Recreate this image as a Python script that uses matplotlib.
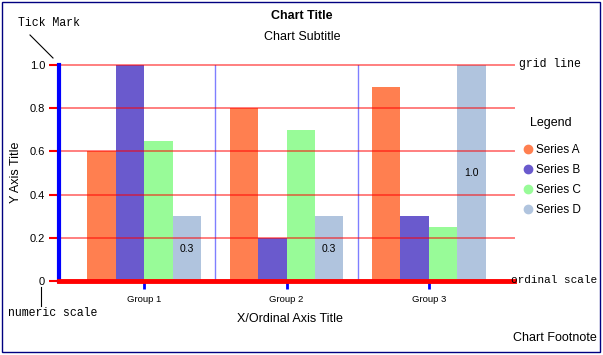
import numpy as np
import matplotlib
matplotlib.use("Agg")
import matplotlib.pyplot as plt
from matplotlib.lines import Line2D
from matplotlib.patches import Rectangle

groups = ["Group 1", "Group 2", "Group 3"]
series = ["Series A", "Series B", "Series C", "Series D"]
values = {
    "Series A": [0.6, 0.8, 0.9],
    "Series B": [1.0, 0.2, 0.3],
    "Series C": [0.65, 0.7, 0.25],
    "Series D": [0.3, 0.3, 1.0],
}
colors = ["#ff7f50", "#6a5acd", "#98fb98", "#b0c4de"]
y_ticks = [0, 0.2, 0.4, 0.6, 0.8, 1.0]
y_labels = ["0", "0.2", "0.4", "0.6", "0.8", "1.0"]
bar_labels = {"Series D": ["0.3", "0.3", "1.0"]}

W, H = 603, 355
fig = plt.figure(figsize=(W / 100, H / 100), dpi=100)
plt.rcParams['font.family'] = ['Liberation Sans', 'DejaVu Sans']


def px(x, y):
    return x / W, 1 - y / H


ax = fig.add_axes([59 / W, 74 / H, (514 - 59) / W, 216 / H])
x = np.arange(len(groups))
width = 0.2
for i, name in enumerate(series):
    pos = x + (i - 1.5) * width
    ax.bar(pos, values[name], width, color=colors[i], zorder=2)
    if name in bar_labels:
        for p, v, lab in zip(pos, values[name], bar_labels[name]):
            ax.text(p, v / 2, lab, ha="center", va="center", fontsize=7.5, zorder=4)

for g in y_ticks[1:]:
    ax.axhline(g, color="#ff0000", alpha=0.5, lw=1.4, zorder=3, clip_on=False)
for s in [0.5, 1.5]:
    ax.axvline(s, color="#0000ff", alpha=0.5, lw=1, zorder=1)

ax.set_xlim(-0.6, 2.6)
ax.set_ylim(0, 1)
ax.set_yticks(y_ticks)
ax.set_yticklabels(y_labels, fontsize=8)
ax.set_xticks(x)
ax.set_xticklabels(groups, fontsize=6.8)
ax.tick_params(axis="y", color="red", length=7, width=1.5, pad=3)
ax.tick_params(axis="x", color="blue", length=6, width=2, pad=4)
for sp in ["top", "right"]:
    ax.spines[sp].set_visible(False)
ax.spines["left"].set_color("blue")
ax.spines["left"].set_linewidth(3)
ax.spines["bottom"].set_color("red")
ax.spines["bottom"].set_linewidth(3.5)
ax.spines["bottom"].set_zorder(5)
ax.spines["left"].set_zorder(5)

# titles
fig.text(*px(302, 16), "Chart Title", ha="center", va="center", fontsize=9, fontweight="bold")
fig.text(*px(302, 37), "Chart Subtitle", ha="center", va="center", fontsize=9)
fig.text(*px(16, 172), "Y Axis Title", ha="center", va="center", fontsize=9, rotation=90)
fig.text(*px(290, 319), "X/Ordinal Axis Title", ha="center", va="center", fontsize=9)
fig.text(*px(597, 338), "Chart Footnote", ha="right", va="center", fontsize=9)

# annotations
mono = "Liberation Mono"
fig.text(*px(18, 23), "Tick Mark", ha="left", va="center", fontsize=8.3, family=mono)
fig.text(*px(519, 64), "grid line", ha="left", va="center", fontsize=8.3, family=mono)
fig.text(*px(511, 280), "ordinal scale", ha="left", va="center", fontsize=7.9, family=mono)
fig.text(*px(8, 313), "numeric scale", ha="left", va="center", fontsize=8.3, family=mono)
for (x0, y0), (x1, y1) in [((30, 35), (53, 58)), ((41, 287), (41, 306))]:
    a, b = px(x0, y0)
    c, d = px(x1, y1)
    fig.add_artist(Line2D([a, c], [b, d], color="black", lw=0.8, transform=fig.transFigure))

# legend
fig.text(*px(551, 123), "Legend", ha="center", va="center", fontsize=9)
handles = [Line2D([], [], marker="o", ls="", color=c, markersize=6) for c in colors]
leg = fig.legend(handles, series, loc="upper left", bbox_to_anchor=px(516, 139),
                 frameon=False, fontsize=8.5,
                 handletextpad=0.1, labelspacing=0.68, borderaxespad=0, handlelength=1.2)

fig.add_artist(Rectangle(px(2, 352), (W - 5) / W, (H - 5) / H, fill=False,
                         edgecolor="#000080", lw=1, transform=fig.transFigure))

fig.savefig("out.png", dpi=100)
